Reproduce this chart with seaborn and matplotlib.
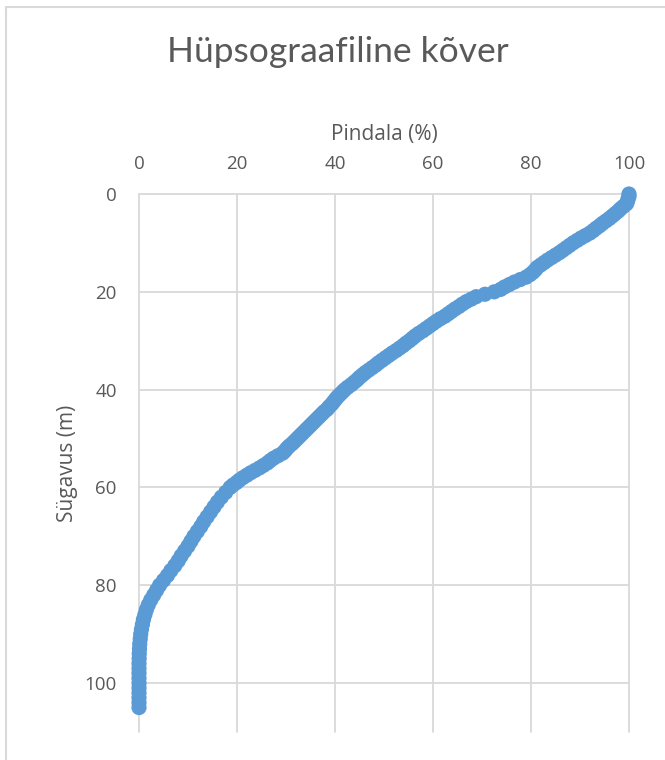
import matplotlib
matplotlib.use("Agg")
import matplotlib.pyplot as plt
from matplotlib.patches import Rectangle
import pandas as pd
import seaborn as sns

# Hypsographic curve: share of lake area (%) deeper than each depth (m)
depth_m = [
    0, 0.5, 1, 1.5, 2, 2.5, 3, 3.5, 4, 4.5,
    5, 5.5, 6, 6.5, 7, 7.5, 8, 8.5, 9, 9.5,
    10, 10.5, 11, 11.5, 12, 12.5, 13, 13.5, 14, 14.5,
    15, 15.5, 16, 16.5, 17, 17.5, 18, 18.5, 19, 19.5,
    20, 20.5, 21, 21.5, 22, 22.5, 23, 23.5, 24, 24.5,
    25, 25.5, 26, 26.5, 27, 27.5, 28, 28.5, 29, 29.5,
    30, 30.5, 31, 31.5, 32, 32.5, 33, 33.5, 34, 34.5,
    35, 35.5, 36, 36.5, 37, 37.5, 38, 38.5, 39, 39.5,
    40, 40.5, 41, 41.5, 42, 42.5, 43, 43.5, 44, 44.5,
    45, 45.5, 46, 46.5, 47, 47.5, 48, 48.5, 49, 49.5,
    50, 50.5, 51, 51.5, 52, 52.5, 53, 53.5, 54, 54.5,
    55, 55.5, 56, 56.5, 57, 57.5, 58, 58.5, 59, 59.5,
    60, 61, 62, 63, 64, 65, 66, 67, 68, 69,
    70, 71, 72, 73, 74, 75, 76, 77, 78, 79,
    80, 81, 82, 83, 84, 85, 86, 87, 88, 89,
    90, 91, 92, 93, 94, 95, 96, 97, 98, 99,
    100, 101, 102, 103, 104, 105,
]
area_pct = [
    100.0, 100.0, 99.8, 99.7, 99.5, 98.9, 98.3, 97.8, 97.2, 96.6,
    96.0, 95.3, 94.6, 94.0, 93.3, 92.7, 92.0, 91.1, 90.2, 89.4,
    88.6, 87.9, 87.2, 86.5, 85.8, 85.0, 84.2, 83.4, 82.7, 82.0,
    81.3, 80.9, 80.4, 79.8, 79.0, 77.8, 76.6, 75.6, 74.6, 73.8,
    72.5, 70.6, 68.8, 67.8, 66.8, 66.0, 65.3, 64.5, 63.8, 63.1,
    62.4, 61.5, 60.7, 60.0, 59.3, 58.6, 57.9, 57.1, 56.4, 55.8,
    55.2, 54.5, 53.9, 53.2, 52.5, 51.7, 51.0, 50.3, 49.6, 48.9,
    48.3, 47.6, 46.9, 46.2, 45.6, 45.0, 44.5, 43.9, 43.3, 42.6,
    42.0, 41.5, 41.0, 40.5, 40.1, 39.7, 39.3, 38.8, 38.4, 37.8,
    37.3, 36.8, 36.3, 35.8, 35.3, 34.8, 34.3, 33.8, 33.3, 32.8,
    32.3, 31.8, 31.3, 30.7, 30.2, 29.8, 29.3, 28.4, 27.5, 26.8,
    26.2, 25.4, 24.6, 23.7, 22.8, 22.0, 21.2, 20.5, 19.9, 19.2,
    18.6, 17.7, 16.8, 16.0, 15.3, 14.6, 13.9, 13.2, 12.6, 11.9,
    11.2, 10.6, 10.0, 9.3, 8.6, 8.0, 7.3, 6.5, 5.8, 5.0,
    4.2, 3.6, 3.0, 2.4, 1.9, 1.5, 1.2, 0.9, 0.7, 0.5,
    0.35, 0.25, 0.15, 0.1, 0.05, 0.03, 0.0, 0.0, 0.0, 0.0,
    0.0, 0.0, 0.0, 0.0, 0.0, 0.0,
]
tick_values = [0, 20, 40, 60, 80, 100]

title_text = "Hüpsograafiline kõver"
x_label = "Pindala (%)"
y_label = "Sügavus (m)"

df = pd.DataFrame({"area": area_pct, "depth": depth_m})

sns.set_theme(style="white")
plt.rcParams["font.family"] = ["Open Sans", "DejaVu Sans"]

text_grey = "#595959"
grid_grey = "#d9d9d9"
blue = "#5b9bd5"

W, H = 665, 760
fig = plt.figure(figsize=(W / 100, H / 100), dpi=100)
ax = fig.add_axes([139 / W, 1 - 732 / H, (629 - 139) / W, (732 - 194) / H])

sns.scatterplot(data=df, x="area", y="depth", ax=ax, color=blue, s=120,
                linewidth=0, edgecolor="none", clip_on=False, zorder=3,
                legend=False)

ax.set_xlim(0, 100)
ax.set_ylim(110, 0)
ax.set_xticks(tick_values)
ax.set_yticks(tick_values)
ax.xaxis.tick_top()
ax.xaxis.set_label_position("top")
ax.tick_params(axis="both", length=0, labelsize=13.5, colors=text_grey)
ax.tick_params(axis="x", pad=15)
ax.tick_params(axis="y", pad=16)
ax.set_xlabel(x_label, fontsize=15, color=text_grey, labelpad=11)
ax.set_ylabel(y_label, fontsize=15, color=text_grey, labelpad=5)
for sp in ax.spines.values():
    sp.set_visible(False)
ax.grid(True, color=grid_grey, linewidth=1.3, zorder=0)
ax.set_axisbelow(True)
for gl in ax.get_xgridlines() + ax.get_ygridlines():
    gl.set_clip_on(False)

fig.text(338 / W, 1 - 52 / H, title_text, ha="center", va="center",
         fontsize=25.5, color=text_grey, family=["Lato", "DejaVu Sans"])

# outer chart frame (left and top edges visible)
fig.patches.append(Rectangle((6 / W, -0.1), 2.0, 1 - 7 / H + 0.1,
                             transform=fig.transFigure, fill=False,
                             edgecolor=grid_grey, linewidth=1.5))

fig.savefig("out.png", dpi=100)
